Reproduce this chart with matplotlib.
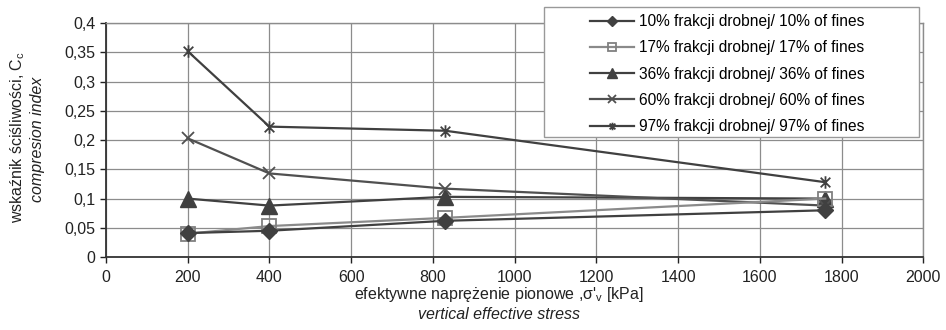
import numpy as np
import matplotlib.pyplot as plt
from matplotlib.path import Path
from matplotlib.patches import Rectangle
from matplotlib.ticker import FuncFormatter

plt.rcParams['font.family'] = ['Liberation Sans', 'DejaVu Sans']

# effective vertical stress [kPa]
stress = [200, 400, 830, 1760]

# compression index Cc for each fines content
cc_10 = [0.041, 0.045, 0.062, 0.080]
cc_17 = [0.040, 0.053, 0.067, 0.100]
cc_36 = [0.100, 0.088, 0.103, 0.100]
cc_60 = [0.203, 0.143, 0.117, 0.088]
cc_97 = [0.352, 0.223, 0.216, 0.128]

labels = ['10% frakcji drobnej/ 10% of fines',
          '17% frakcji drobnej/ 17% of fines',
          '36% frakcji drobnej/ 36% of fines',
          '60% frakcji drobnej/ 60% of fines',
          '97% frakcji drobnej/ 97% of fines']

# asterisk marker: x with a vertical bar
star = Path([(-1, -1), (1, 1), (-1, 1), (1, -1), (0, -1.3), (0, 1.3)],
            [Path.MOVETO, Path.LINETO, Path.MOVETO, Path.LINETO, Path.MOVETO, Path.LINETO])

fig = plt.figure(figsize=(9.46, 3.3), dpi=100)
ax = fig.add_axes([0.112, 0.221, 0.864, 0.709])

dark = '#404040'
ax.plot(stress, cc_10, color=dark, lw=1.6, marker='D', ms=8, mfc=dark, mec=dark, label=labels[0], zorder=5)
ax.plot(stress, cc_17, color='#8a8a8a', lw=1.6, marker='s', ms=10, mfc='none', mec='#808080', mew=1.3, label=labels[1], zorder=4)
ax.plot(stress, cc_36, color=dark, lw=1.6, marker='^', ms=11, mfc=dark, mec=dark, label=labels[2], zorder=3)
ax.plot(stress, cc_60, color='#505050', lw=1.6, marker='x', ms=9, mew=1.3, label=labels[3], zorder=3)
ax.plot(stress, cc_97, color=dark, lw=1.6, marker=star, ms=9, mew=1.3, mec=dark, label=labels[4], zorder=3)

ax.set_xlim(0, 2000)
ax.set_ylim(0, 0.4)
ax.set_xticks(np.arange(0, 2001, 200))
ax.set_yticks(np.arange(0, 0.401, 0.05))
ax.yaxis.set_major_formatter(FuncFormatter(lambda v, p: ('%g' % round(v, 2)).replace('.', ',')))
ax.tick_params(labelsize=11.5, colors='#222222', length=4, width=1)
ax.tick_params(axis='x', pad=5.5)
ax.grid(True, color='#8c8c8c', lw=0.9)
ax.set_axisbelow(True)
for s in ['left', 'bottom']:
    ax.spines[s].set_color('#333333')
    ax.spines[s].set_linewidth(1.3)
for s in ['top', 'right']:
    ax.spines[s].set_color('#8c8c8c')
    ax.spines[s].set_linewidth(1.0)

fig.text(0.527, 0.108, "efektywne naprężenie pionowe ,σ'$_\\mathregular{v}$ [kPa]",
         ha='center', va='center', fontsize=11.5, color='#222222')
fig.text(0.527, 0.047, 'vertical effective stress', ha='center', va='center',
         fontsize=11.5, style='italic', color='#222222')
fig.text(0.019, 0.585, 'wskaźnik ściśliwości, C$_\\mathregular{c}$', rotation=90,
         ha='center', va='center', fontsize=11.5, color='#222222')
fig.text(0.04, 0.578, 'compresion index', rotation=90, ha='center', va='center',
         fontsize=11.5, style='italic', color='#222222')

# legend frame drawn separately so the padding matches the original box
fig.patches.append(Rectangle((0.575, 0.585), 0.396, 0.394, transform=fig.transFigure,
                             facecolor='white', edgecolor='#999999', lw=1.0, zorder=4))
leg = fig.legend(loc='upper left', bbox_to_anchor=(0.624, 0.957), fontsize=11.2,
                 markerscale=0.6, handlelength=2.8, handletextpad=0.3, frameon=False,
                 borderpad=0, borderaxespad=0, labelspacing=0.72)

fig.savefig('out.png', dpi=100)
